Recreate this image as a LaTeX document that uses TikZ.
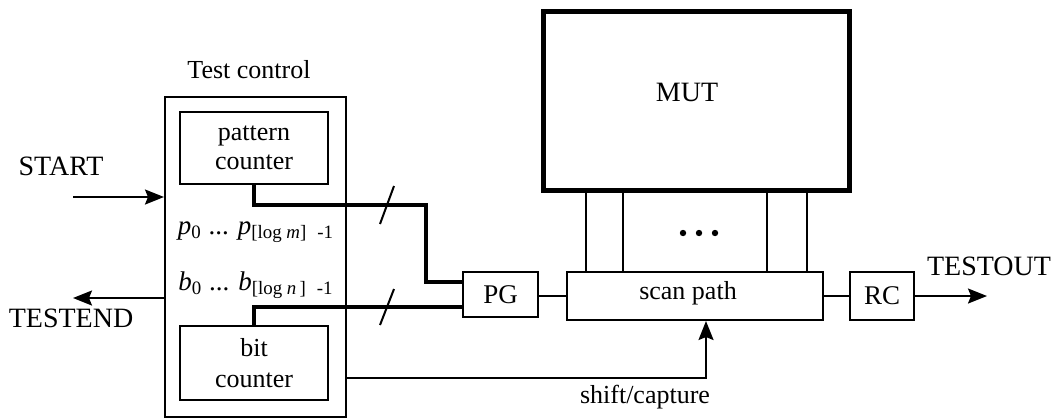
\documentclass[tikz,border=0pt]{standalone}
\usepackage{fontspec}
\setmainfont{Liberation Serif}
\usetikzlibrary{arrows.meta,calc}

\tikzset{
  blk/.style={draw, line width=1pt, rectangle, inner sep=0pt, align=center,
              font=\fontsize{13.5}{14.5}\selectfont},
  thin/.style={line width=1pt},
  bus/.style={line width=1.6pt},
  sig/.style={line width=1pt, -{Stealth[length=9.5pt,width=7.5pt,inset=1.5pt]}},
  lbl/.style={inner sep=0pt, font=\fontsize{14}{16}\selectfont},
  sublbl/.style={inner sep=0pt, font=\fontsize{13}{15}\selectfont},
}

\newcommand{\idx}[1]{\textsubscript{#1}}

\begin{document}
\begin{tikzpicture}[x=0.5pt, y=-0.5pt]
  \useasboundingbox (0,0) rectangle (1058,419);

  % test control block with its two counters
  \node[sublbl] (tclabel) at (249,70) {Test control};
  \node[blk, minimum width=90.5pt, minimum height=160pt] (tc) at (255.5,257) {};
  \node[blk, minimum width=74pt, minimum height=36pt,
        font=\fontsize{13}{14.5}\selectfont] (pc) at (254,148) {pattern\\counter};
  \node[blk, minimum width=74pt, minimum height=37pt,
        font=\fontsize{13}{15.5}\selectfont] (bc) at (254,363) {bit\\counter};

  \node[sublbl, font=\fontsize{13.5}{15}\selectfont] (plab) at (256,232)
    {\textit{p}\idx{0} ... \textit{p}\idx{[log \textit{m}]\,\, -1}};
  \node[sublbl, font=\fontsize{13.5}{15}\selectfont] (blab) at (256,285)
    {\textit{b}\idx{0} ... \textit{b}\idx{[log \textit{n}\,]\,\, -1}};

  % external control signals
  \node[lbl] (start) at (61,166) {START};
  \node[lbl] (testend) at (71,318) {TESTEND};
  \coordinate (startin) at (73,197);
  \coordinate (endout) at (73,298);
  \draw[sig] (startin) -- (startin -| tc.west);
  \draw[sig] (endout -| tc.west) -- (endout);

  % data path
  \node[blk, minimum width=37.5pt, minimum height=22.5pt] (pg) at (500.5,294.5) {PG};
  \node[blk, minimum width=128pt, minimum height=24pt] (sp) at (695,296) {};
  \node[sublbl] (sptext) at (688,293) {scan path};
  \node[blk, minimum width=32pt, minimum height=24pt] (rc) at (882,296) {RC};
  \node[draw, line width=2.5pt, minimum width=153pt, minimum height=89.5pt,
        inner sep=0pt] (mut) at (696.5,100.5) {};
  \node[lbl] (muttext) at (687,92) {MUT};

  \draw[thin] (sp.west -| pg.east) -- (sp.west);
  \draw[thin] (sp.east) -- (rc.west);
  \node[lbl] (testout) at (989,266) {TESTOUT};
  \coordinate (outend) at (987,296);
  \draw[sig] (rc.east) -- (outend);

  % connections between MUT and scan path
  \foreach \xx [count=\i] in {586,623,767,807} {
    \coordinate (v\i) at (\xx,0);
    \draw[thin] (mut.south -| v\i) -- (sp.north -| v\i);
  }
  \foreach \xx in {683,699,715} \fill (\xx,233) circle (1.6pt);

  % counter buses into the pattern generator
  \coordinate (j1) at (426,205);
  \draw[bus] (pc.south) |- (j1) |- ([yshift=6.25pt]pg.west);
  \draw[bus] (bc.north) |- ([yshift=-6.25pt]pg.west);
  \draw[thin] (380,224) -- (394,186);
  \draw[thin] (380,325) -- (394,289);

  % shift/capture control
  \coordinate (sc) at (706,378);
  \draw[sig] (tc.east |- sc) -- (sc) -- (sc |- sp.south);
  \node[sublbl] (sclabel) at (645,397) {shift/capture};
\end{tikzpicture}
\end{document}
